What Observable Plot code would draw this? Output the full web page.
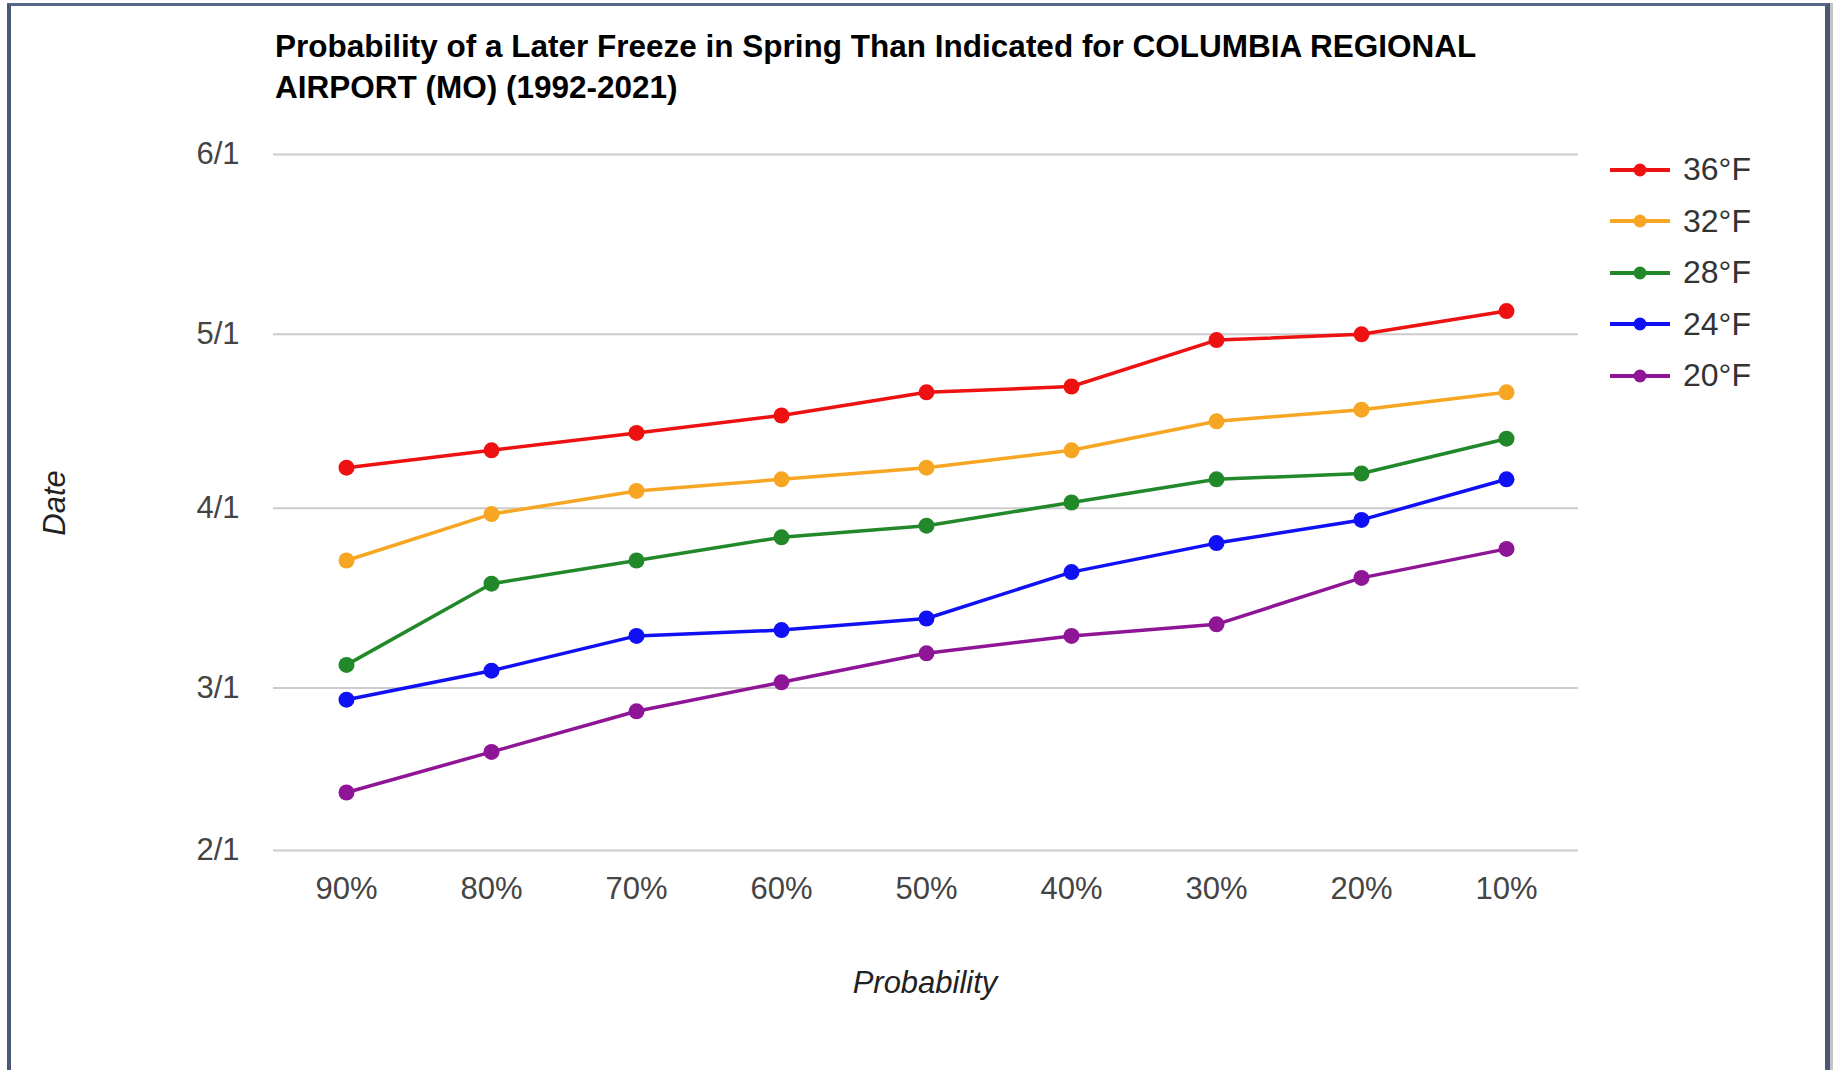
<!DOCTYPE html>
<html>
<head>
<meta charset="utf-8">
<script src="https://cdn.jsdelivr.net/npm/d3@7"></script>
<script src="https://cdn.jsdelivr.net/npm/@observablehq/plot@0.6"></script>
<style>
  html, body { margin: 0; padding: 0; background: #fff; width: 1833px; height: 1070px; overflow: hidden; position: relative; font-family: "Liberation Sans", Arial, sans-serif; }
  .frame { position: absolute; left: 7px; top: 3px; width: 1823px; height: 1100px; box-sizing: border-box;
           border-left: 4px solid #4a5877; border-top: 3px solid #56658a; border-right: 5px solid #4a5877; }
  .shadow { position: absolute; left: 1830px; top: 3px; width: 3px; height: 1100px; background: #c4c4c4; }
  .title { position: absolute; left: 275px; top: 26px; font-size: 31.5px; font-weight: bold; line-height: 41px; color: #000; white-space: nowrap; }
  #chart { position: absolute; left: 0; top: 120px; }
  .ylab { position: absolute; left: 55px; top: 503px; transform: translate(-50%, -50%) rotate(-90deg); font-size: 31px; font-style: italic; color: #222; white-space: nowrap; }
  .xlab { position: absolute; left: 925px; top: 983px; transform: translate(-50%, -50%); font-size: 31px; font-style: italic; color: #222; white-space: nowrap; }
  .legend { position: absolute; left: 1605px; top: 0; }
  .lrow { position: absolute; left: 0; height: 40px; display: flex; align-items: center; white-space: nowrap; }
  .lrow span { font-size: 32px; color: #333; margin-left: 8px; }
</style>
</head>
<body>
<div class="frame"></div>
<div class="shadow"></div>
<div class="title">Probability of a Later Freeze in Spring Than Indicated for COLUMBIA REGIONAL<br>AIRPORT (MO) (1992-2021)</div>
<div id="chart"></div>
<div class="ylab">Date</div>
<div class="xlab">Probability</div>
<div class="legend" id="legend"></div>
<script>
// ---- data ----
const probabilities = ["90%", "80%", "70%", "60%", "50%", "40%", "30%", "20%", "10%"];
const seriesNames = ["36°F", "32°F", "28°F", "24°F", "20°F"];
const seriesColors = ["#ee1111", "#f6a623", "#22892a", "#1010f5", "#8e1596"];
const dates36 = ["4/8", "4/11", "4/14", "4/17", "4/21", "4/22", "4/30", "5/1", "5/5"];
const dates32 = ["3/23", "3/31", "4/4", "4/6", "4/8", "4/11", "4/16", "4/18", "4/21"];
const dates28 = ["3/5", "3/19", "3/23", "3/27", "3/29", "4/2", "4/6", "4/7", "4/13"];
const dates24 = ["2/27", "3/4", "3/10", "3/11", "3/13", "3/21", "3/26", "3/30", "4/6"];
const dates20 = ["2/11", "2/18", "2/25", "3/2", "3/7", "3/10", "3/12", "3/20", "3/25"];
const yTickLabels = ["2/1", "3/1", "4/1", "5/1", "6/1"];
const seriesDates = [dates36, dates32, dates28, dates24, dates20];

const parse = d3.utcParse("%m/%d");
const rows = [];
seriesNames.forEach((s, i) => {
  seriesDates[i].forEach((d, j) => rows.push({series: s, prob: probabilities[j], date: parse(d)}));
});
const yTicks = yTickLabels.map(parse);

const chart = Plot.plot({
  width: 1833,
  height: 950,
  marginLeft: 273,
  marginRight: 255,
  marginTop: 34,
  marginBottom: 220,
  style: {fontFamily: "'Liberation Sans', Arial, sans-serif", fontSize: "31px", color: "#444", background: "transparent", overflow: "visible"},
  x: {type: "point", domain: probabilities, padding: 0.5, label: null},
  y: {type: "utc", domain: [yTicks[0], yTicks[yTicks.length - 1]], label: null},
  color: {domain: seriesNames, range: seriesColors},
  marks: [
    Plot.gridY(yTicks, {stroke: "#cccccc", strokeOpacity: 1, strokeWidth: 2}),
    Plot.axisY(yTicks, {tickSize: 0, tickPadding: 34, tickFormat: d3.utcFormat("%-m/%-d"), label: null}),
    Plot.axisX({tickSize: 0, tickPadding: 26, label: null}),
    Plot.line(rows, {x: "prob", y: "date", z: "series", stroke: "series", strokeWidth: 3.5, strokeLinejoin: "round"}),
    Plot.dot(rows, {x: "prob", y: "date", fill: "series", r: 8})
  ]
});
document.getElementById("chart").appendChild(chart);

// ---- legend ----
const legend = document.getElementById("legend");
seriesNames.forEach((s, i) => {
  const row = document.createElement("div");
  row.className = "lrow";
  row.style.top = (169.5 + i * 51.5 - 20) + "px";
  const c = seriesColors[i];
  row.innerHTML = `<svg width="70" height="40"><line x1="5" x2="65" y1="20" y2="20" stroke="${c}" stroke-width="4"/><circle cx="35" cy="20" r="6.5" fill="${c}"/></svg><span>${s}</span>`;
  legend.appendChild(row);
});
</script>
</body>
</html>
